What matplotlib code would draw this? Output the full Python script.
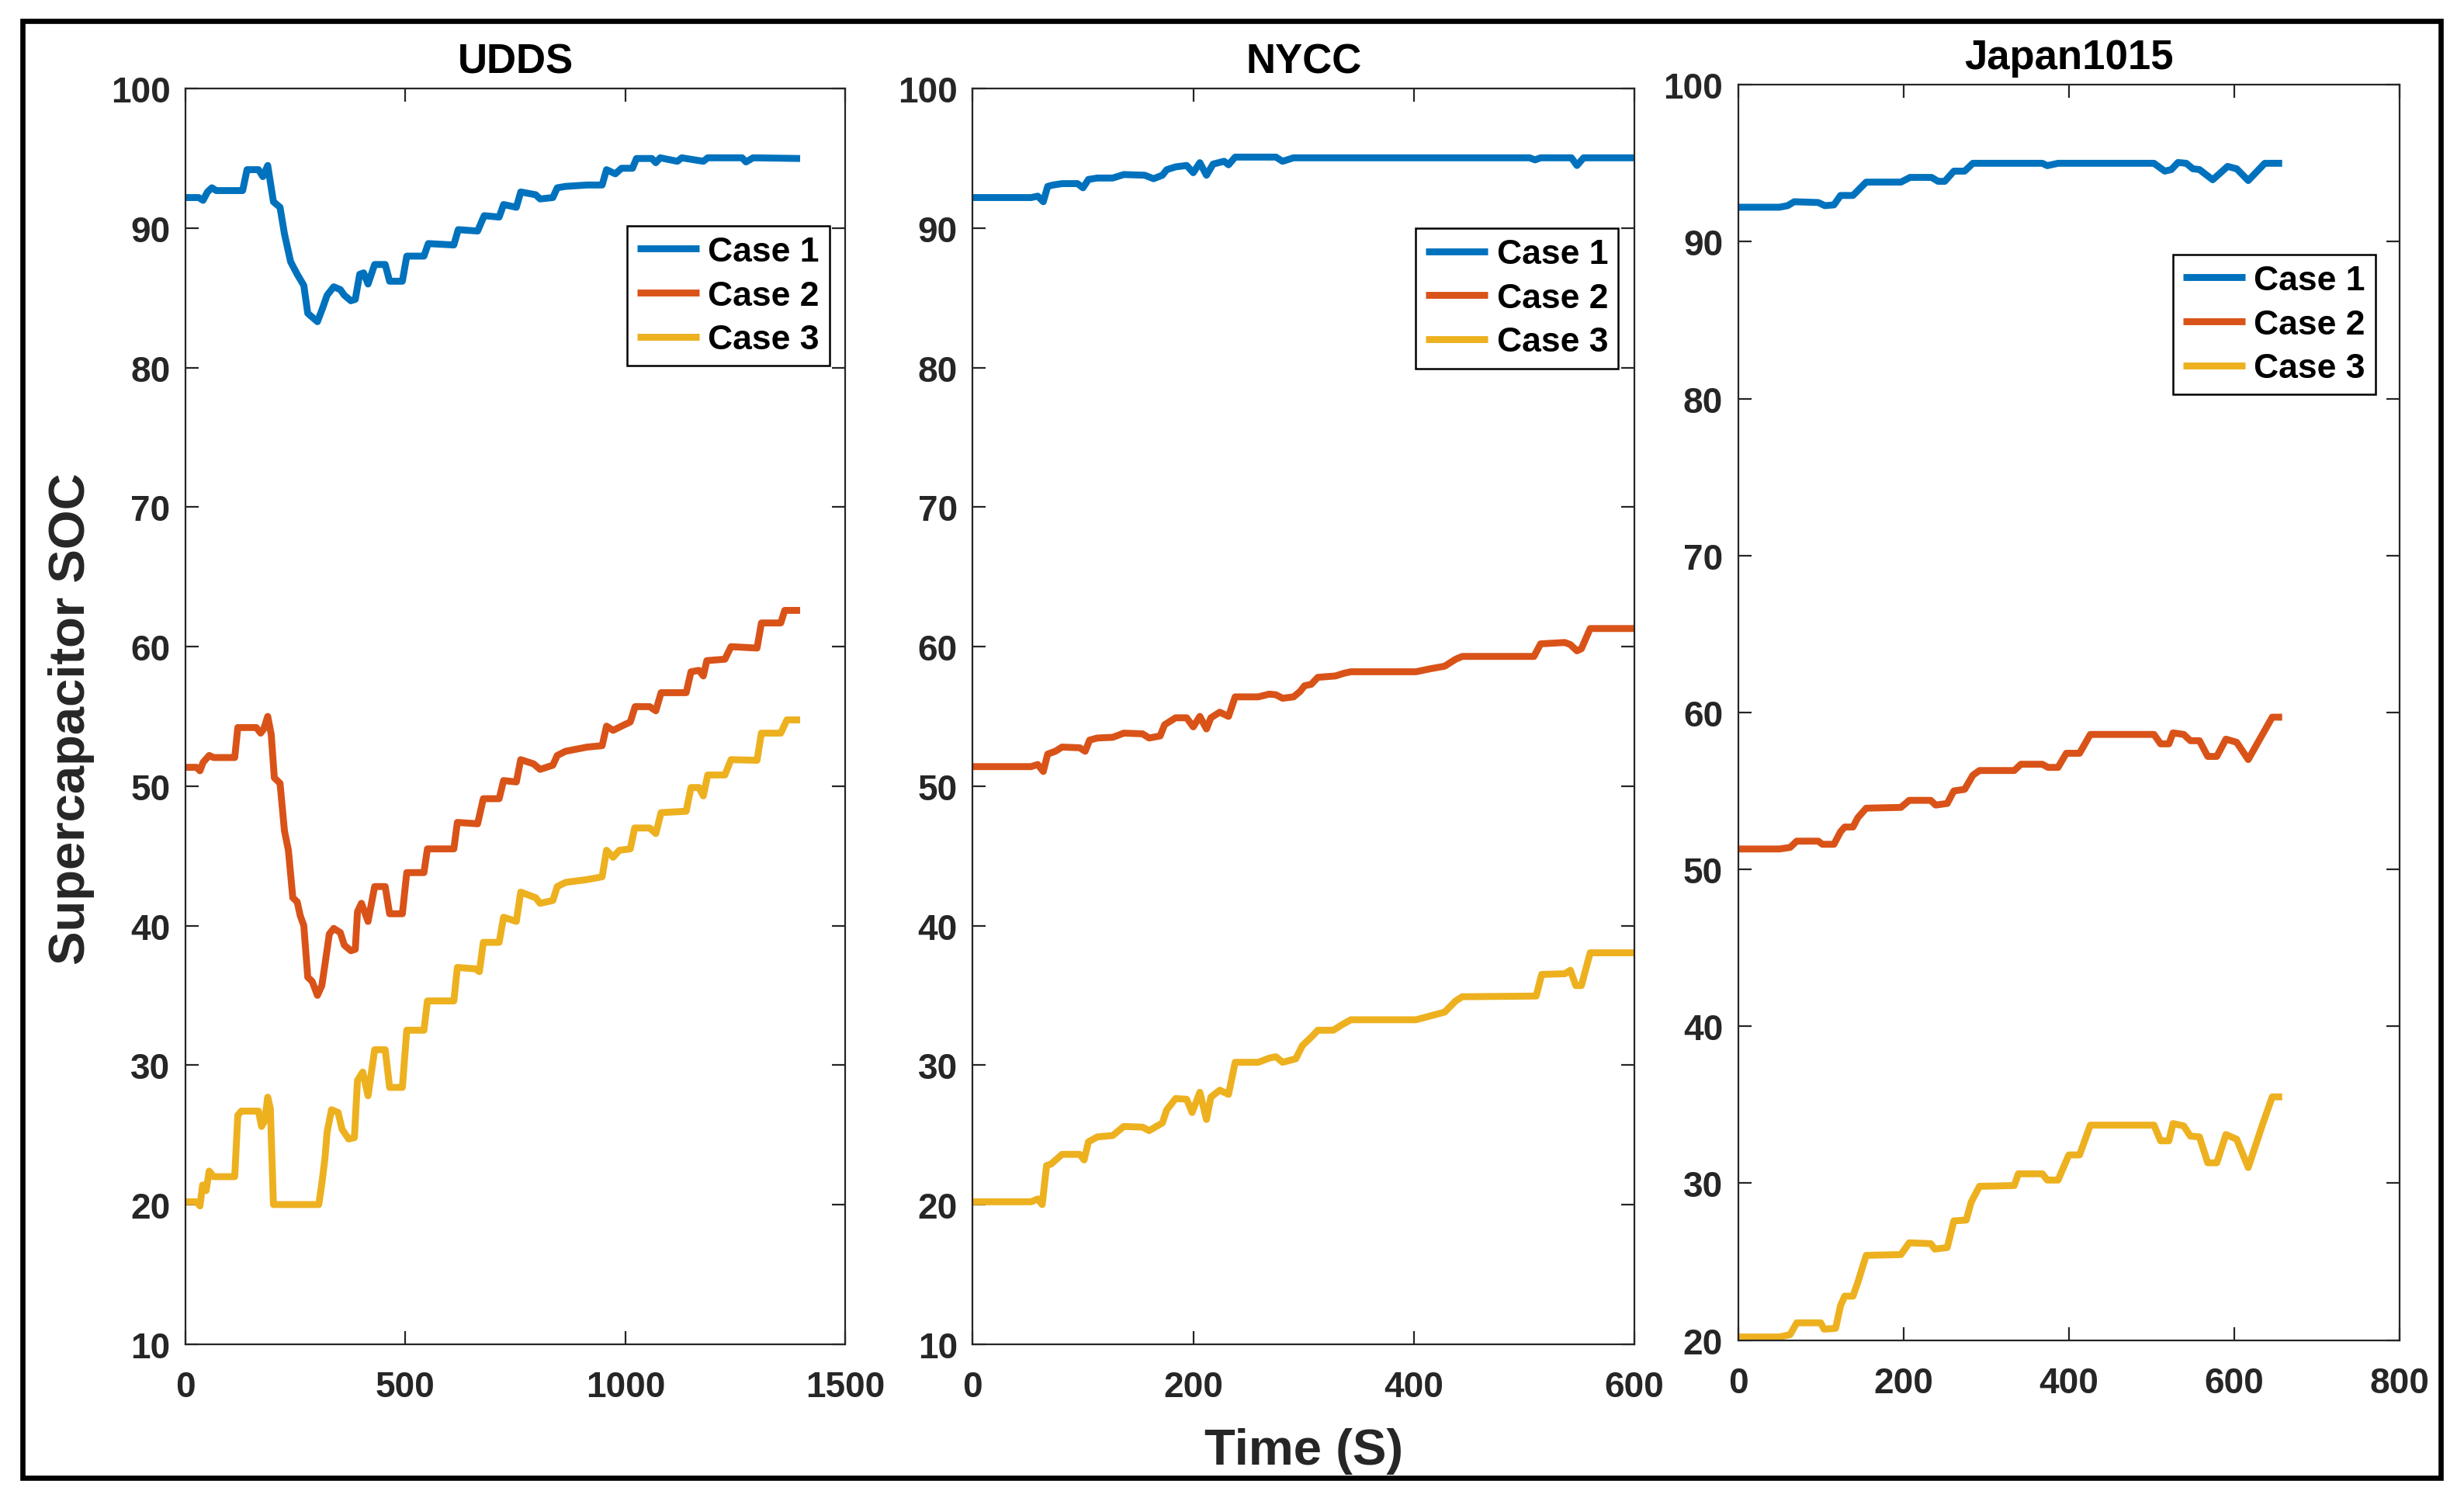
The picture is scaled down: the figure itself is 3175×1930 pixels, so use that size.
import matplotlib
matplotlib.use('Agg')
import matplotlib.pyplot as plt
from matplotlib.patches import Rectangle

plt.rcParams['font.family'] = ['Liberation Sans', 'DejaVu Sans']
plt.rcParams['font.weight'] = 'bold'

colors = ['#0072BD', '#D95319', '#EDB120']
labels = ['Case 1', 'Case 2', 'Case 3']

# UDDS
udds_t1 = [0, 30, 40, 50, 60, 70, 130, 140, 166, 176, 187, 200, 215, 225, 239, 254, 269, 278, 300, 312,
           322, 337, 352, 361, 376, 386, 396, 405, 415, 430, 454, 464, 493, 503, 542, 552, 610, 620, 664, 679,
           713, 723, 752, 762, 796, 806, 835, 845, 864, 913, 947, 957, 977, 991, 1016, 1025, 1060, 1069, 1079,
           1118, 1128, 1177, 1187, 1265, 1274, 1290, 1397]
udds_v1 = [92.2, 92.2, 92.0, 92.6, 92.9, 92.7, 92.7, 94.2, 94.2, 93.7, 94.5, 91.9, 91.5, 89.6, 87.6, 86.7, 85.9,
           83.9, 83.3, 84.3, 85.2, 85.8, 85.6, 85.2, 84.8, 84.9, 86.7, 86.8, 86.0, 87.4, 87.4, 86.2, 86.2, 88.0,
           88.0, 88.9, 88.8, 89.9, 89.8, 90.9, 90.8, 91.7, 91.5, 92.6, 92.4, 92.1, 92.2, 92.9, 93.0, 93.1, 93.1,
           94.2, 93.9, 94.3, 94.3, 95.0, 95.0, 94.7, 95.05, 94.8, 95.05, 94.8, 95.05, 95.05, 94.75, 95.05, 95.0]
udds_t2 = [0, 25, 33, 40, 54, 64, 112, 119, 161, 171, 178, 187, 195, 202, 215, 225, 234, 244, 254, 261, 269,
           278, 288, 300, 310, 317, 327, 337, 352, 361, 376, 386, 391, 400, 415, 430, 454, 464, 493, 503, 542,
           550, 610, 618, 664, 677, 713, 723, 752, 762, 791, 806, 835, 845, 864, 913, 947, 957, 972, 991, 1011,
           1022, 1055, 1069, 1081, 1138, 1149, 1167, 1177, 1185, 1226, 1240, 1299, 1309, 1353, 1362, 1397]
udds_v2 = [51.35, 51.35, 51.1, 51.7, 52.2, 52.05, 52.05, 54.2, 54.2, 53.8, 54.1, 55.0, 53.7, 50.6, 50.2, 46.8,
           45.4, 42.0, 41.7, 40.7, 40.0, 36.3, 36.0, 35.0, 35.7, 37.2, 39.4, 39.8, 39.5, 38.6, 38.2, 38.3, 41.0,
           41.6, 40.3, 42.8, 42.8, 40.85, 40.85, 43.8, 43.8, 45.5, 45.5, 47.4, 47.3, 49.1, 49.1, 50.4, 50.3, 51.9,
           51.6, 51.2, 51.5, 52.2, 52.5, 52.8, 52.9, 54.3, 54.0, 54.3, 54.6, 55.7, 55.7, 55.4, 56.7, 56.7, 58.2,
           58.3, 57.9, 59.0, 59.1, 60.0, 59.9, 61.7, 61.7, 62.6, 62.6]
udds_t3 = [0, 25, 33, 39, 47, 54, 64, 112, 119, 127, 166, 173, 180, 187, 193, 200, 303, 310, 317, 322, 332,
           347, 356, 371, 384, 391, 403, 415, 430, 454, 464, 493, 503, 542, 550, 610, 618, 659, 668, 677, 713,
           723, 752, 762, 796, 806, 835, 845, 864, 913, 947, 957, 972, 986, 1011, 1021, 1055, 1069, 1081, 1138,
           1149, 1167, 1177, 1187, 1226, 1240, 1299, 1309, 1353, 1367, 1397]
udds_v3 = [20.2, 20.2, 19.9, 21.4, 21.0, 22.4, 22.0, 22.0, 26.4, 26.7, 26.7, 25.6, 26.0, 27.7, 26.9, 20.0, 20.0,
           21.5, 23.3, 25.2, 26.8, 26.6, 25.4, 24.7, 24.8, 28.9, 29.5, 27.8, 31.1, 31.1, 28.4, 28.4, 32.5, 32.5,
           34.6, 34.6, 37.0, 36.9, 36.7, 38.8, 38.8, 40.6, 40.3, 42.4, 42.0, 41.6, 41.8, 42.8, 43.1, 43.3, 43.5,
           45.4, 44.9, 45.4, 45.5, 47.0, 47.0, 46.6, 48.1, 48.2, 49.9, 49.9, 49.3, 50.8, 50.8, 51.9, 51.85, 53.8,
           53.8, 54.75, 54.75]

# NYCC
nycc_t1 = [0, 53, 59, 64, 68, 73, 81, 95, 100, 105, 113, 127, 137, 156, 164, 172, 176, 184, 194, 200, 206,
           212, 218, 228, 232, 238, 275, 281, 291, 505, 510, 515, 543, 548, 554, 600]
nycc_v1 = [92.2, 92.2, 92.3, 91.9, 93.0, 93.1, 93.2, 93.2, 92.9, 93.5, 93.6, 93.6, 93.85, 93.8, 93.55, 93.8,
           94.2, 94.4, 94.5, 93.98, 94.7, 93.8, 94.6, 94.8, 94.55, 95.1, 95.1, 94.8, 95.05, 95.05, 94.9, 95.05,
           95.05, 94.5, 95.05, 95.05]
nycc_t2 = [0, 53, 59, 64, 68, 75, 81, 97, 102, 106, 113, 127, 137, 154, 160, 170, 174, 184, 194, 200, 206,
           212, 216, 224, 232, 238, 259, 269, 275, 281, 291, 297, 301, 307, 313, 329, 337, 343, 402, 414, 428,
           438, 444, 509, 515, 537, 542, 548, 552, 560, 600]
nycc_v2 = [51.4, 51.4, 51.55, 51.05, 52.3, 52.5, 52.8, 52.75, 52.5, 53.3, 53.45, 53.5, 53.8, 53.75, 53.45, 53.6,
           54.4, 54.9, 54.9, 54.25, 55.0, 54.1, 54.9, 55.3, 55.0, 56.4, 56.4, 56.6, 56.55, 56.3, 56.4, 56.8, 57.2,
           57.3, 57.8, 57.9, 58.1, 58.2, 58.2, 58.4, 58.6, 59.1, 59.3, 59.3, 60.2, 60.3, 60.15, 59.7, 59.85,
           61.3, 61.3]
nycc_t3 = [0, 53, 59, 63, 67, 71, 81, 97, 101, 105, 113, 127, 137, 154, 160, 172, 176, 184, 194, 199, 206,
           212, 216, 224, 232, 238, 259, 269, 275, 281, 293, 299, 307, 313, 327, 335, 343, 402, 414, 428, 438,
           444, 511, 516, 537, 542, 547, 552, 560, 600]
nycc_v3 = [20.2, 20.2, 20.4, 20.0, 22.8, 22.9, 23.6, 23.6, 23.2, 24.5, 24.85, 24.95, 25.6, 25.55, 25.3, 25.85,
           26.8, 27.6, 27.55, 26.6, 28.05, 26.1, 27.7, 28.2, 27.9, 30.2, 30.2, 30.5, 30.6, 30.2, 30.45, 31.4,
           32.0, 32.5, 32.5, 32.9, 33.25, 33.25, 33.5, 33.8, 34.6, 34.9, 34.95, 36.5, 36.55, 36.8, 35.7, 35.7,
           38.05, 38.05]

# Japan1015
jp_t1 = [0, 50, 60, 68, 97, 105, 116, 124, 139, 155, 197, 208, 234, 242, 250, 261, 274, 284, 368, 374, 387,
         503, 516, 524, 532, 542, 550, 558, 574, 592, 603, 617, 637, 658]
jp_v1 = [92.2, 92.2, 92.3, 92.55, 92.5, 92.3, 92.35, 92.95, 92.95, 93.8, 93.8, 94.1, 94.1, 93.85, 93.85, 94.5,
         94.5, 95.0, 95.0, 94.85, 95.0, 95.0, 94.5, 94.6, 95.05, 95.0, 94.65, 94.6, 93.95, 94.8, 94.65, 93.9,
         95.0, 95.0]
jp_t2 = [0, 50, 63, 71, 97, 102, 116, 124, 129, 139, 145, 155, 197, 207, 233, 239, 253, 261, 274, 284, 292,
         334, 342, 368, 375, 387, 397, 413, 426, 503, 511, 521, 526, 539, 547, 558, 568, 579, 590, 603, 617,
         632, 646, 658]
jp_v2 = [51.3, 51.3, 51.4, 51.8, 51.8, 51.6, 51.6, 52.4, 52.7, 52.7, 53.3, 53.9, 53.95, 54.4, 54.4, 54.1, 54.2,
         55.0, 55.1, 56.0, 56.3, 56.3, 56.7, 56.7, 56.5, 56.5, 57.4, 57.4, 58.6, 58.6, 58.0, 58.0, 58.7, 58.6,
         58.2, 58.2, 57.2, 57.2, 58.3, 58.1, 57.0, 58.4, 59.7, 59.7]
jp_t3 = [0, 50, 63, 71, 100, 104, 118, 124, 129, 139, 145, 155, 197, 207, 233, 238, 253, 261, 276, 282, 292,
         334, 339, 368, 374, 387, 400, 413, 426, 503, 511, 521, 526, 539, 547, 558, 568, 579, 590, 603, 617,
         634, 646, 658]
jp_v3 = [20.2, 20.2, 20.35, 21.1, 21.1, 20.7, 20.75, 22.2, 22.8, 22.8, 23.7, 25.4, 25.45, 26.2, 26.15, 25.8,
         25.9, 27.6, 27.65, 28.8, 29.8, 29.85, 30.6, 30.6, 30.2, 30.2, 31.8, 31.8, 33.7, 33.7, 32.7, 32.7, 33.8,
         33.65, 33.0, 32.95, 31.3, 31.3, 33.1, 32.8, 31.0, 33.7, 35.5, 35.5]

panels = [
    ('UDDS', [(udds_t1, udds_v1), (udds_t2, udds_v2), (udds_t3, udds_v3)],
     (0, 1500), [0, 500, 1000, 1500], (10, 100), range(10, 101, 10)),
    ('NYCC', [(nycc_t1, nycc_v1), (nycc_t2, nycc_v2), (nycc_t3, nycc_v3)],
     (0, 600), [0, 200, 400, 600], (10, 100), range(10, 101, 10)),
    ('Japan1015', [(jp_t1, jp_v1), (jp_t2, jp_v2), (jp_t3, jp_v3)],
     (0, 800), [0, 200, 400, 600, 800], (20, 100), range(20, 101, 10)),
]

# axes boxes [left, bottom, width, height] in figure fraction
boxes = [[0.07526, 0.10273, 0.26786, 0.83753],
         [0.39477, 0.10273, 0.26850, 0.83753],
         [0.70536, 0.10535, 0.26850, 0.83753]]
leg_anchor = [(0.976, 0.891), (0.976, 0.889), (0.964, 0.865)]

fig = plt.figure(figsize=(15.875, 9.655), dpi=200)
axis_col = '#262626'

for i, (title, series, xl, xt, yl, yt) in enumerate(panels):
    ax = fig.add_axes(boxes[i])
    for (t, v), c, lab in zip(series, colors, labels):
        ax.plot(t, v, color=c, lw=3.2, label=lab, solid_joinstyle='round', solid_capstyle='butt')
    ax.set_xlim(*xl)
    ax.set_ylim(*yl)
    ax.set_xticks(xt)
    ax.set_yticks(list(yt))
    ax.tick_params(direction='in', top=True, right=True, length=6, width=0.8,
                   colors=axis_col, labelsize=16.5)
    ax.tick_params(axis='x', pad=12)
    ax.tick_params(axis='y', pad=7)
    for lbl in ax.get_xticklabels() + ax.get_yticklabels():
        lbl.set_fontweight('bold')
    for sp in ax.spines.values():
        sp.set_color(axis_col)
        sp.set_linewidth(0.8)
    ax.set_title(title, fontsize=19, fontweight='bold', pad=7.5, color='black')
    leg = ax.legend(loc='upper right', bbox_to_anchor=leg_anchor[i], borderaxespad=0,
                    fontsize=16, fancybox=False, framealpha=1, edgecolor='black',
                    handlelength=1.8, handletextpad=0.25, labelspacing=0.35, borderpad=0.3)
    leg.get_frame().set_linewidth(0.9)
    for txt in leg.get_texts():
        txt.set_fontweight('bold')

fig.text(0.0291, 0.5204, 'Supercapacitor SOC', rotation=90, ha='center', va='center',
         fontsize=23.5, fontweight='bold', color=axis_col)
fig.text(0.529, 0.0228, 'Time (S)', ha='center', va='baseline',
         fontsize=23.5, fontweight='bold', color=axis_col)

fig.patches.append(Rectangle((14.5 / 1568, 1 - 941 / 954), (1553 - 14.5) / 1568, (941 - 14) / 954,
                             transform=fig.transFigure, fill=False, lw=2.4, ec='black'))

fig.savefig('out.png', dpi=200, facecolor='white')
